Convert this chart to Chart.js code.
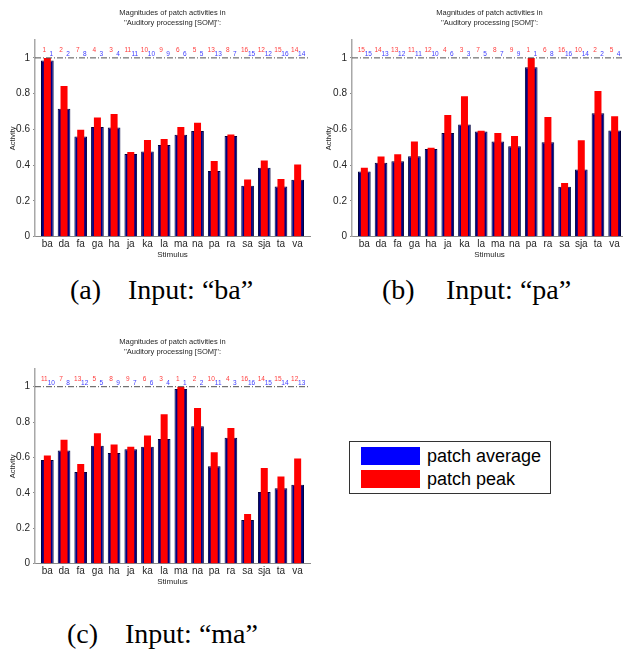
<!DOCTYPE html>
<html>
<head>
<meta charset="utf-8">
<script src="https://cdn.jsdelivr.net/npm/chart.js@4"></script>
<style>
  body { margin: 0; background: #fff; }
  #page { position: relative; width: 623px; height: 658px; overflow: hidden; background: #fff; }
  canvas { position: absolute; }
  .cap { position: absolute; font-family: "Liberation Serif", "Times New Roman", serif; font-size: 28px; line-height: 28px; color: #000; white-space: nowrap; }
  #legend { position: absolute; left: 349px; top: 441px; width: 200px; height: 51px; border: 1px solid #333; font-family: "Liberation Sans", Arial, sans-serif; font-size: 18px; color: #000; }
  .sw { position: absolute; left: 11px; width: 59px; height: 18px; }
  .lt { position: absolute; left: 77px; line-height: 18px; }
</style>
</head>
<body>
<div id="page">
  <canvas id="chartA" width="320" height="266" style="left:0;top:0"></canvas>
  <canvas id="chartB" width="310" height="266" style="left:320px;top:0"></canvas>
  <canvas id="chartC" width="320" height="264" style="left:0;top:329px"></canvas>

  <div class="cap" style="left:70px;top:276px">(a)</div>
  <div class="cap" style="left:128px;top:276px">Input: “ba”</div>
  <div class="cap" style="left:382px;top:276px">(b)</div>
  <div class="cap" style="left:446px;top:276px">Input: “pa”</div>
  <div class="cap" style="left:67px;top:620px">(c)</div>
  <div class="cap" style="left:125px;top:620px">Input: “ma”</div>

  <div id="legend">
    <div class="sw" style="top:5px;background:#0000ff"></div>
    <div class="lt" style="top:5px">patch average</div>
    <div class="sw" style="top:28px;background:#ff0000"></div>
    <div class="lt" style="top:28px">patch peak</div>
  </div>
</div>
<script>
const stimuli = ["ba", "da", "fa", "ga", "ha", "ja", "ka", "la", "ma", "na", "pa", "ra", "sa", "sja", "ta", "va"]

const yTicks = [0, 0.2, 0.4, 0.6, 0.8, 1]
const yTickLabels = ["0", "0.2", "0.4", "0.6", "0.8", "1"]

const titleLines = ["Magnitudes of patch activities in", "''Auditory processing [SOM]'':"]

// (a) input "ba"
const avgA = [0.985, 0.715, 0.561, 0.613, 0.611, 0.463, 0.476, 0.513, 0.570, 0.591, 0.367, 0.563, 0.285, 0.385, 0.281, 0.319]
const peakA = [1.0, 0.843, 0.598, 0.667, 0.686, 0.474, 0.541, 0.546, 0.613, 0.637, 0.424, 0.572, 0.320, 0.426, 0.322, 0.404]
const rankPeakA = [1, 2, 7, 4, 3, 11, 10, 9, 6, 5, 13, 8, 16, 12, 15, 14]
const rankAvgA = [1, 2, 8, 3, 4, 11, 10, 9, 6, 5, 13, 7, 15, 12, 16, 14]

// (b) input "pa"
const avgB = [0.365, 0.413, 0.422, 0.450, 0.491, 0.580, 0.628, 0.589, 0.533, 0.506, 0.948, 0.528, 0.280, 0.376, 0.691, 0.594]
const peakB = [0.385, 0.448, 0.461, 0.533, 0.498, 0.680, 0.785, 0.593, 0.580, 0.563, 1.0, 0.670, 0.300, 0.539, 0.815, 0.674]
const rankPeakB = [15, 14, 13, 11, 12, 4, 3, 7, 8, 9, 1, 6, 16, 10, 2, 5]
const rankAvgB = [15, 13, 12, 11, 10, 6, 3, 5, 7, 9, 1, 8, 16, 14, 2, 4]

// (c) input "ma"
const avgC = [0.586, 0.640, 0.518, 0.667, 0.625, 0.646, 0.661, 0.704, 0.987, 0.776, 0.550, 0.712, 0.247, 0.405, 0.426, 0.446]
const peakC = [0.612, 0.700, 0.563, 0.737, 0.674, 0.661, 0.725, 0.844, 1.0, 0.880, 0.629, 0.767, 0.281, 0.540, 0.493, 0.595]
const rankPeakC = [11, 7, 13, 5, 8, 9, 6, 3, 1, 2, 10, 4, 16, 14, 15, 12]
const rankAvgC = [10, 8, 12, 5, 9, 7, 6, 4, 1, 2, 11, 3, 16, 15, 14, 13]

const fam = '"Liberation Sans", Arial, sans-serif'
const textColor = "#262626"

// red/blue rank numbers above each bar plus the dash-dot line at 1
const rankPlugin = {
	id: "ranks",
	afterDatasetsDraw(chart, args, opts) {
		const ctx = chart.ctx
		const area = chart.chartArea
		const x = chart.scales.x
		const y = chart.scales.y
		const y1 = y.getPixelForValue(1)
		ctx.save()
		ctx.strokeStyle = "#505050"
		ctx.lineWidth = 1
		ctx.setLineDash([6, 2, 1, 2])
		ctx.beginPath()
		ctx.moveTo(area.left, y1)
		ctx.lineTo(area.right, y1)
		ctx.stroke()
		ctx.setLineDash([])
		ctx.font = "6.5px " + fam
		ctx.textAlign = "center"
		ctx.textBaseline = "middle"
		opts.peak.forEach((r, i) => {
			const cx = x.getPixelForValue(i)
			ctx.fillStyle = "#ff3b3b"
			ctx.fillText(String(r), cx - 3, y1 - 7.6)
			ctx.fillStyle = "#3b3bff"
			ctx.fillText(String(opts.avg[i]), cx + 4, y1 - 3.3)
		})
		ctx.restore()
	}
}

function makeChart(id, avg, peak, rankAvg, rankPeak, yWidth, yTitlePad, rightPad) {
	const toPoints = arr => arr.map((v, i) => ({ x: i, y: v }))
	return new Chart(document.getElementById(id), {
		type: "bar",
		data: {
			datasets: [{
				label: "patch peak",
				data: toPoints(peak),
				backgroundColor: "#ff0000",
				grouped: false,
				barPercentage: 0.42,
				categoryPercentage: 1,
				order: 1,
			}, {
				label: "patch average",
				data: toPoints(avg),
				backgroundColor: "#000080",
				borderColor: "#00003c",
				borderWidth: 1,
				grouped: false,
				barPercentage: 0.76,
				categoryPercentage: 1,
				order: 2,
			}]
		},
		options: {
			responsive: false,
			animation: false,
			events: [],
			layout: { padding: { left: 0, right: rightPad, top: 0, bottom: 0 } },
			plugins: {
				legend: { display: false },
				tooltip: { enabled: false },
				title: {
					display: true,
					text: titleLines,
					fullSize: false,
					color: textColor,
					font: { family: fam, size: 7.5, weight: "normal", lineHeight: 1.4 },
					padding: { top: 7.5, bottom: 11.5 },
				},
				ranks: { peak: rankPeak, avg: rankAvg },
			},
			scales: {
				x: {
					type: "linear",
					offset: false,
					min: -0.74,
					max: 15.74,
					afterBuildTicks: s => { s.ticks = stimuli.map((_, i) => ({ value: i })) },
					afterFit: s => { s.height = 29.3 },
					grid: { display: false, drawTicks: false },
					border: { color: "#8a8a8a", width: 1 },
					ticks: {
						autoSkip: false,
						maxRotation: 0,
						padding: 2,
						color: textColor,
						font: { family: fam, size: 10, lineHeight: 1.2 },
						callback: v => stimuli[v],
					},
					title: {
						display: true,
						text: "Stimulus",
						color: textColor,
						font: { family: fam, size: 8, lineHeight: 1.2 },
						padding: { top: 0, bottom: 6.5 },
					},
				},
				y: {
					min: 0,
					max: 1.1,
					afterBuildTicks: s => { s.ticks = yTicks.map(v => ({ value: v })) },
					afterFit: s => { s.width = yWidth },
					grid: { drawOnChartArea: false, tickLength: 2, color: "#8a8a8a" },
					border: { color: "#a8a8a8", width: 1.5 },
					ticks: {
						padding: 3,
						color: textColor,
						font: { family: fam, size: 10 },
						callback: v => yTickLabels[yTicks.indexOf(v)],
					},
					title: {
						display: true,
						text: "Activity",
						color: textColor,
						font: { family: fam, size: 7.5, lineHeight: 1.2 },
						padding: { top: yTitlePad, bottom: 0 },
					},
				},
			},
		},
		plugins: [rankPlugin],
	})
}

makeChart("chartA", avgA, peakA, rankAvgA, rankPeakA, 35, 8.5, 10)
makeChart("chartB", avgB, peakB, rankAvgB, rankPeakB, 32, 4.5, 3)
makeChart("chartC", avgC, peakC, rankAvgC, rankPeakC, 35, 8.5, 10)
</script>
</body>
</html>
